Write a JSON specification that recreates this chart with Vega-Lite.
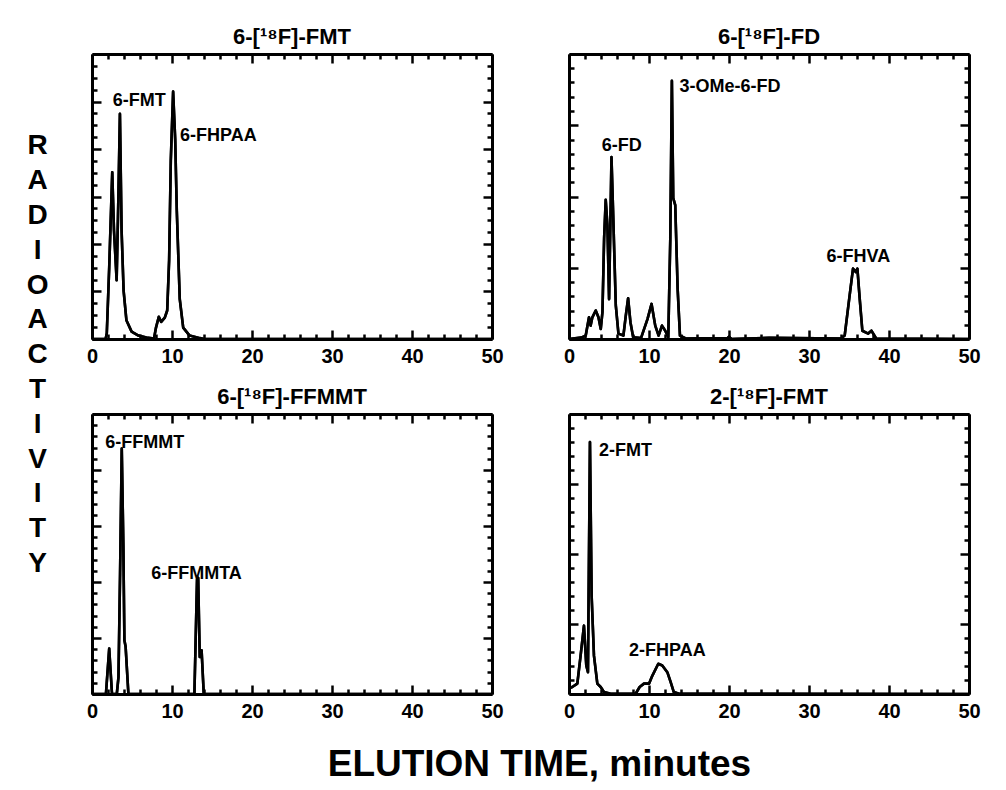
{
"$schema":"https://vega.github.io/schema/vega-lite/v6.json",
"background":"white",
"padding":{"left":26,"top":25,"right":5,"bottom":5},
"datasets":{
"p1":[{"t":0,"r":0},{"t":1.7,"r":0},{"t":1.85,"r":2},{"t":2.15,"r":25},{"t":2.53,"r":58.5},{"t":2.75,"r":38},{"t":3.08,"r":20.6},{"t":3.3,"r":50},{"t":3.49,"r":79},{"t":3.7,"r":38},{"t":3.95,"r":17},{"t":4.3,"r":6.6},{"t":4.95,"r":2.6},{"t":5.8,"r":1.2},{"t":6.8,"r":0.5},{"t":7.75,"r":0.2},{"t":8.0,"r":4},{"t":8.35,"r":7.8},{"t":8.65,"r":6},{"t":9.1,"r":7.5},{"t":9.4,"r":10},{"t":9.64,"r":27.6},{"t":9.85,"r":62.6},{"t":10.14,"r":86.8},{"t":10.4,"r":70},{"t":10.6,"r":45},{"t":10.97,"r":14},{"t":11.4,"r":4},{"t":12.2,"r":1.2},{"t":13.5,"r":0.3},{"t":14,"r":0},{"t":50,"r":0}],
"p2":[{"t":0,"r":0},{"t":1.5,"r":0.5},{"t":2.09,"r":1.2},{"t":2.5,"r":7.6},{"t":2.7,"r":4.7},{"t":2.92,"r":7.6},{"t":3.34,"r":10},{"t":3.68,"r":7.6},{"t":3.97,"r":3.5},{"t":4.18,"r":9.4},{"t":4.39,"r":35.3},{"t":4.59,"r":48.8},{"t":4.8,"r":40},{"t":5.01,"r":14},{"t":5.14,"r":35},{"t":5.31,"r":63.8},{"t":5.55,"r":41},{"t":5.85,"r":11.8},{"t":6.18,"r":1.9},{"t":6.8,"r":1.2},{"t":7.1,"r":8.2},{"t":7.39,"r":14.3},{"t":7.68,"r":5.9},{"t":8.02,"r":0.6},{"t":9.0,"r":0.3},{"t":9.81,"r":7},{"t":10.32,"r":12.3},{"t":10.78,"r":4.7},{"t":11.2,"r":1.2},{"t":11.62,"r":4.7},{"t":12.03,"r":2.9},{"t":12.41,"r":0.6},{"t":12.66,"r":35},{"t":12.86,"r":90.6},{"t":13.03,"r":49.4},{"t":13.28,"r":47},{"t":13.58,"r":17.6},{"t":13.87,"r":1.2},{"t":14.6,"r":0.2},{"t":19.8,"r":0.3},{"t":20,"r":0.8},{"t":20.3,"r":0},{"t":25,"r":0.4},{"t":34,"r":0.2},{"t":34.46,"r":1.2},{"t":35.08,"r":15.3},{"t":35.5,"r":24.7},{"t":35.84,"r":23.5},{"t":36.05,"r":24.7},{"t":36.34,"r":14.1},{"t":36.67,"r":2.9},{"t":37.4,"r":1.9},{"t":37.8,"r":2.9},{"t":38.4,"r":0.2},{"t":50,"r":0}],
"p3":[{"t":0,"r":0},{"t":1.74,"r":0},{"t":2.15,"r":16.2},{"t":2.5,"r":0},{"t":3.1,"r":0},{"t":3.31,"r":6},{"t":3.51,"r":43},{"t":3.72,"r":87.7},{"t":3.92,"r":53},{"t":4.05,"r":19.2},{"t":4.2,"r":17},{"t":4.55,"r":0},{"t":12.8,"r":0},{"t":13.13,"r":40.9},{"t":13.27,"r":41.5},{"t":13.47,"r":13.2},{"t":13.7,"r":15.6},{"t":13.97,"r":0},{"t":50,"r":0}],
"p4":[{"t":0,"r":2},{"t":0.41,"r":2.5},{"t":1.04,"r":3.7},{"t":1.45,"r":13.7},{"t":1.87,"r":24.4},{"t":2.16,"r":10.2},{"t":2.37,"r":7.8},{"t":2.62,"r":90},{"t":2.83,"r":35},{"t":3.12,"r":13.7},{"t":3.54,"r":3.7},{"t":3.96,"r":2.5},{"t":4.37,"r":0.7},{"t":5.2,"r":0.1},{"t":8.33,"r":0.1},{"t":8.83,"r":2.5},{"t":9.37,"r":3.7},{"t":10.0,"r":3.7},{"t":10.41,"r":6.5},{"t":11.16,"r":10.8},{"t":11.66,"r":10.2},{"t":12.29,"r":7.8},{"t":12.7,"r":4.3},{"t":13.1,"r":0.7},{"t":13.75,"r":0.1},{"t":50,"r":0}],
"l1":[{"t":2.6,"r":83.6,"label":"6-FMT"},{"t":11.0,"r":71.3,"label":"6-FHPAA"}],
"l2":[{"t":13.8,"r":88.5,"label":"3-OMe-6-FD"},{"t":4.1,"r":67.8,"label":"6-FD"},{"t":32.2,"r":28.7,"label":"6-FHVA"}],
"l3":[{"t":1.66,"r":89.8,"label":"6-FFMMT"},{"t":7.4,"r":42.9,"label":"6-FFMMTA"}],
"l4":[{"t":3.75,"r":86.7,"label":"2-FMT"},{"t":7.5,"r":15.2,"label":"2-FHPAA"}]
},
"title":{"text":"ELUTION TIME, minutes","orient":"bottom","anchor":"middle","fontSize":37,"fontWeight":"bold","font":"Liberation Sans","color":"black","offset":22,"dx":36},
"vconcat":[{
"title":{"text":["R","A","D","I","O","A","C","T","I","V","I","T","Y"],"orient":"left","anchor":"middle","angle":0,"fontSize":28,"fontWeight":"bold","font":"Liberation Sans","color":"black","lineHeight":34.8,"baseline":"middle","align":"center","offset":27,"dy":-229},
"columns":2,
"spacing":{"row":75,"column":77},
"bounds":"flush",
"concat":[
{"title":"6-[¹⁸F]-FMT","width":400,"height":285,
 "layer":[
  {"data":{"name":"p1"},"mark":{"type":"line","color":"black","strokeWidth":2.6,"strokeJoin":"round"},
   "encoding":{"x":{"field":"t","type":"quantitative","scale":{"domain":[0,50],"nice":false},"axis":{"orient":"bottom","title":null,"values":[0,2,4,6,8,10,12,14,16,18,20,22,24,26,28,30,32,34,36,38,40,42,44,46,48,50],"tickSize":{"condition":{"test":"datum.value % 10 === 0","value":-9},"value":-5},"labelExpr":"datum.value % 10 === 0 ? datum.label : ''"}},
    "y":{"field":"r","type":"quantitative","scale":{"domain":[0,100],"nice":false},"axis":{"orient":"left","title":null,"labels":false,"values":[0,4.1667,8.3333,12.5,16.6667,20.8333,25,29.1667,33.3333,37.5,41.6667,45.8333,50,54.1667,58.3333,62.5,66.6667,70.8333,75,79.1667,83.3333,87.5,91.6667,95.8333,100],"tickSize":{"condition":{"test":"abs(datum.value/16.6667 - round(datum.value/16.6667)) < 0.02","value":-9},"value":-5}}}}},
  {"data":{"name":"p1"},"mark":{"type":"line","color":"black","strokeWidth":2.6,"strokeJoin":"round"},
   "encoding":{"x":{"field":"t","type":"quantitative","scale":{"domain":[0,50],"nice":false},"axis":{"orient":"top","title":null,"labels":false,"values":[0,2,4,6,8,10,12,14,16,18,20,22,24,26,28,30,32,34,36,38,40,42,44,46,48,50],"tickSize":{"condition":{"test":"datum.value % 10 === 0","value":-9},"value":-5}}},
    "y":{"field":"r","type":"quantitative","scale":{"domain":[0,100],"nice":false},"axis":{"orient":"right","title":null,"labels":false,"values":[0,4.1667,8.3333,12.5,16.6667,20.8333,25,29.1667,33.3333,37.5,41.6667,45.8333,50,54.1667,58.3333,62.5,66.6667,70.8333,75,79.1667,83.3333,87.5,91.6667,95.8333,100],"tickSize":{"condition":{"test":"abs(datum.value/16.6667 - round(datum.value/16.6667)) < 0.02","value":-9},"value":-5}}}}},
  {"data":{"name":"l1"},"mark":{"type":"text","align":"left","baseline":"middle","fontSize":18,"fontWeight":"bold","letterSpacing":-0.5,"color":"black"},
   "encoding":{"x":{"field":"t","type":"quantitative","axis":null},"y":{"field":"r","type":"quantitative","axis":null},"text":{"field":"label"}}}
 ],
 "resolve":{"axis":{"x":"independent","y":"independent"}}},
{"title":"6-[¹⁸F]-FD","width":400,"height":285,
 "layer":[
  {"data":{"name":"p2"},"mark":{"type":"line","color":"black","strokeWidth":2.6,"strokeJoin":"round"},
   "encoding":{"x":{"field":"t","type":"quantitative","scale":{"domain":[0,50],"nice":false},"axis":{"orient":"bottom","title":null,"values":[0,2,4,6,8,10,12,14,16,18,20,22,24,26,28,30,32,34,36,38,40,42,44,46,48,50],"tickSize":{"condition":{"test":"datum.value % 10 === 0","value":-9},"value":-5},"labelExpr":"datum.value % 10 === 0 ? datum.label : ''"}},
    "y":{"field":"r","type":"quantitative","scale":{"domain":[0,100],"nice":false},"axis":{"orient":"left","title":null,"labels":false,"values":[0,5,10,15,20,25,30,35,40,45,50,55,60,65,70,75,80,85,90,95,100],"tickSize":{"condition":{"test":"datum.value % 25 === 0","value":-9},"value":-5}}}}},
  {"data":{"name":"p2"},"mark":{"type":"line","color":"black","strokeWidth":2.6,"strokeJoin":"round"},
   "encoding":{"x":{"field":"t","type":"quantitative","scale":{"domain":[0,50],"nice":false},"axis":{"orient":"top","title":null,"labels":false,"values":[0,2,4,6,8,10,12,14,16,18,20,22,24,26,28,30,32,34,36,38,40,42,44,46,48,50],"tickSize":{"condition":{"test":"datum.value % 10 === 0","value":-9},"value":-5}}},
    "y":{"field":"r","type":"quantitative","scale":{"domain":[0,100],"nice":false},"axis":{"orient":"right","title":null,"labels":false,"values":[0,5,10,15,20,25,30,35,40,45,50,55,60,65,70,75,80,85,90,95,100],"tickSize":{"condition":{"test":"datum.value % 25 === 0","value":-9},"value":-5}}}}},
  {"data":{"name":"l2"},"mark":{"type":"text","align":"left","baseline":"middle","fontSize":18,"fontWeight":"bold","letterSpacing":-0.5,"color":"black"},
   "encoding":{"x":{"field":"t","type":"quantitative","axis":null},"y":{"field":"r","type":"quantitative","axis":null},"text":{"field":"label"}}}
 ],
 "resolve":{"axis":{"x":"independent","y":"independent"}}},
{"title":"6-[¹⁸F]-FFMMT","width":400,"height":280,
 "layer":[
  {"data":{"name":"p3"},"mark":{"type":"line","color":"black","strokeWidth":2.6,"strokeJoin":"round"},
   "encoding":{"x":{"field":"t","type":"quantitative","scale":{"domain":[0,50],"nice":false},"axis":{"orient":"bottom","title":null,"values":[0,2,4,6,8,10,12,14,16,18,20,22,24,26,28,30,32,34,36,38,40,42,44,46,48,50],"tickSize":{"condition":{"test":"datum.value % 10 === 0","value":-9},"value":-5},"labelExpr":"datum.value % 10 === 0 ? datum.label : ''"}},
    "y":{"field":"r","type":"quantitative","scale":{"domain":[0,100],"nice":false},"axis":{"orient":"left","title":null,"labels":false,"values":[0,4,8,12,16,20,24,28,32,36,40,44,48,52,56,60,64,68,72,76,80,84,88,92,96,100],"tickSize":{"condition":{"test":"datum.value % 20 === 0","value":-9},"value":-5}}}}},
  {"data":{"name":"p3"},"mark":{"type":"line","color":"black","strokeWidth":2.6,"strokeJoin":"round"},
   "encoding":{"x":{"field":"t","type":"quantitative","scale":{"domain":[0,50],"nice":false},"axis":{"orient":"top","title":null,"labels":false,"values":[0,2,4,6,8,10,12,14,16,18,20,22,24,26,28,30,32,34,36,38,40,42,44,46,48,50],"tickSize":{"condition":{"test":"datum.value % 10 === 0","value":-9},"value":-5}}},
    "y":{"field":"r","type":"quantitative","scale":{"domain":[0,100],"nice":false},"axis":{"orient":"right","title":null,"labels":false,"values":[0,4,8,12,16,20,24,28,32,36,40,44,48,52,56,60,64,68,72,76,80,84,88,92,96,100],"tickSize":{"condition":{"test":"datum.value % 20 === 0","value":-9},"value":-5}}}}},
  {"data":{"name":"l3"},"mark":{"type":"text","align":"left","baseline":"middle","fontSize":18,"fontWeight":"bold","letterSpacing":-0.5,"color":"black"},
   "encoding":{"x":{"field":"t","type":"quantitative","axis":null},"y":{"field":"r","type":"quantitative","axis":null},"text":{"field":"label"}}}
 ],
 "resolve":{"axis":{"x":"independent","y":"independent"}}},
{"title":"2-[¹⁸F]-FMT","width":400,"height":280,
 "layer":[
  {"data":{"name":"p4"},"mark":{"type":"line","color":"black","strokeWidth":2.6,"strokeJoin":"round"},
   "encoding":{"x":{"field":"t","type":"quantitative","scale":{"domain":[0,50],"nice":false},"axis":{"orient":"bottom","title":null,"values":[0,2,4,6,8,10,12,14,16,18,20,22,24,26,28,30,32,34,36,38,40,42,44,46,48,50],"tickSize":{"condition":{"test":"datum.value % 10 === 0","value":-9},"value":-5},"labelExpr":"datum.value % 10 === 0 ? datum.label : ''"}},
    "y":{"field":"r","type":"quantitative","scale":{"domain":[0,100],"nice":false},"axis":{"orient":"left","title":null,"labels":false,"values":[0,5,10,15,20,25,30,35,40,45,50,55,60,65,70,75,80,85,90,95,100],"tickSize":{"condition":{"test":"datum.value % 25 === 0","value":-9},"value":-5}}}}},
  {"data":{"name":"p4"},"mark":{"type":"line","color":"black","strokeWidth":2.6,"strokeJoin":"round"},
   "encoding":{"x":{"field":"t","type":"quantitative","scale":{"domain":[0,50],"nice":false},"axis":{"orient":"top","title":null,"labels":false,"values":[0,2,4,6,8,10,12,14,16,18,20,22,24,26,28,30,32,34,36,38,40,42,44,46,48,50],"tickSize":{"condition":{"test":"datum.value % 10 === 0","value":-9},"value":-5}}},
    "y":{"field":"r","type":"quantitative","scale":{"domain":[0,100],"nice":false},"axis":{"orient":"right","title":null,"labels":false,"values":[0,5,10,15,20,25,30,35,40,45,50,55,60,65,70,75,80,85,90,95,100],"tickSize":{"condition":{"test":"datum.value % 25 === 0","value":-9},"value":-5}}}}},
  {"data":{"name":"l4"},"mark":{"type":"text","align":"left","baseline":"middle","fontSize":18,"fontWeight":"bold","letterSpacing":-0.5,"color":"black"},
   "encoding":{"x":{"field":"t","type":"quantitative","axis":null},"y":{"field":"r","type":"quantitative","axis":null},"text":{"field":"label"}}}
 ],
 "resolve":{"axis":{"x":"independent","y":"independent"}}}
]}],
"config":{
 "font":"Liberation Sans",
 "view":{"stroke":null},
 "title":{"fontSize":22,"fontWeight":"bold","color":"black","offset":4,"font":"Liberation Sans"},
 "axis":{"domainColor":"black","domainWidth":3,"tickColor":"black","tickWidth":2.5,"grid":false,"labelFontSize":20,"labelFontWeight":"bold","labelColor":"black","labelPadding":16,"labelOverlap":false,"labelFlush":false,"labelBound":false}
}
}
